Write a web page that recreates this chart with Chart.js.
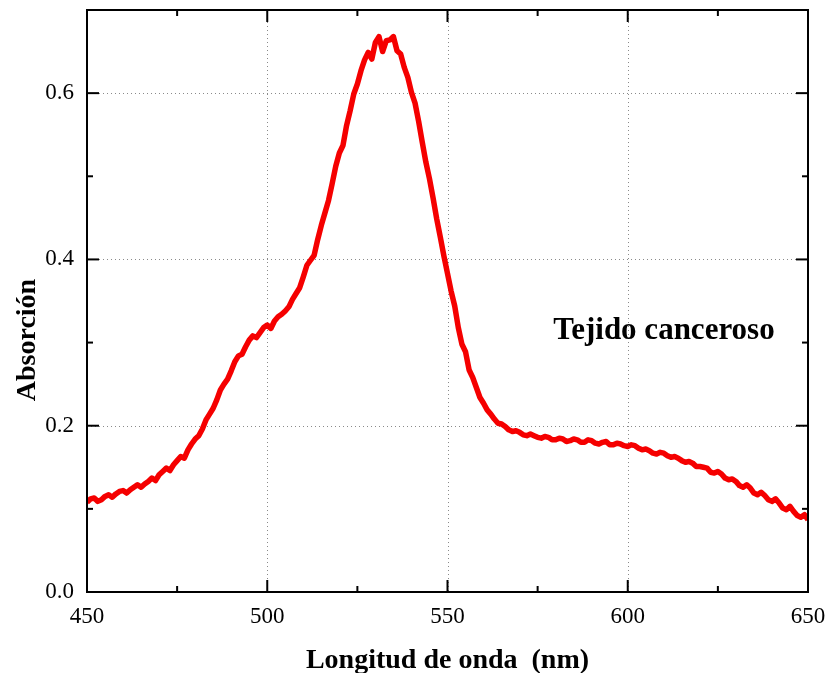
<!DOCTYPE html>
<html>
<head>
<meta charset="utf-8">
<script src="https://cdn.jsdelivr.net/npm/chart.js@4"></script>
<style>
  html, body { margin: 0; padding: 0; background: #fff; }
  #wrap { width: 827px; height: 673px; }
</style>
</head>
<body>
<div id="wrap"><canvas id="abs-chart" width="827" height="673"></canvas></div>
<script>
// wavelength (nm) and absorbance, 1 nm steps
const wavelengths = [
  450,
  451, 452, 453, 454, 455, 456, 457, 458, 459, 460,
  461, 462, 463, 464, 465, 466, 467, 468, 469, 470,
  471, 472, 473, 474, 475, 476, 477, 478, 479, 480,
  481, 482, 483, 484, 485, 486, 487, 488, 489, 490,
  491, 492, 493, 494, 495, 496, 497, 498, 499, 500,
  501, 502, 503, 504, 505, 506, 507, 508, 509, 510,
  511, 512, 513, 514, 515, 516, 517, 518, 519, 520,
  521, 522, 523, 524, 525, 526, 527, 528, 529, 530,
  531, 532, 533, 534, 535, 536, 537, 538, 539, 540,
  541, 542, 543, 544, 545, 546, 547, 548, 549, 550,
  551, 552, 553, 554, 555, 556, 557, 558, 559, 560,
  561, 562, 563, 564, 565, 566, 567, 568, 569, 570,
  571, 572, 573, 574, 575, 576, 577, 578, 579, 580,
  581, 582, 583, 584, 585, 586, 587, 588, 589, 590,
  591, 592, 593, 594, 595, 596, 597, 598, 599, 600,
  601, 602, 603, 604, 605, 606, 607, 608, 609, 610,
  611, 612, 613, 614, 615, 616, 617, 618, 619, 620,
  621, 622, 623, 624, 625, 626, 627, 628, 629, 630,
  631, 632, 633, 634, 635, 636, 637, 638, 639, 640,
  641, 642, 643, 644, 645, 646, 647, 648, 649, 650
];
const absorbance = [
  0.108,
  0.112, 0.113, 0.109, 0.111, 0.115, 0.117, 0.114, 0.118, 0.121, 0.122,
  0.119, 0.123, 0.126, 0.129, 0.126, 0.130, 0.133, 0.137, 0.134, 0.141,
  0.145, 0.149, 0.146, 0.153, 0.158, 0.163, 0.161, 0.171, 0.178, 0.184,
  0.188, 0.196, 0.207, 0.214, 0.221, 0.231, 0.243, 0.250, 0.256, 0.266,
  0.277, 0.284, 0.286, 0.295, 0.303, 0.308, 0.306, 0.312, 0.318, 0.321,
  0.317, 0.326, 0.331, 0.334, 0.338, 0.343, 0.352, 0.359, 0.366, 0.379,
  0.393, 0.399, 0.405, 0.424, 0.441, 0.456, 0.471, 0.491, 0.512, 0.528,
  0.537, 0.561, 0.579, 0.599, 0.611, 0.627, 0.640, 0.649, 0.641, 0.661,
  0.668, 0.650, 0.663, 0.664, 0.668, 0.651, 0.647, 0.631, 0.619, 0.601,
  0.588, 0.566, 0.541, 0.517, 0.497, 0.474, 0.449, 0.427, 0.404, 0.383,
  0.362, 0.344, 0.318, 0.298, 0.289, 0.267, 0.258, 0.246, 0.234, 0.227,
  0.219, 0.214, 0.208, 0.203, 0.202, 0.199, 0.195, 0.193, 0.194, 0.192,
  0.189, 0.188, 0.190, 0.188, 0.186, 0.185, 0.187, 0.186, 0.183, 0.183,
  0.185, 0.184, 0.181, 0.182, 0.184, 0.183, 0.180, 0.180, 0.183, 0.182,
  0.179, 0.178, 0.180, 0.181, 0.177, 0.177, 0.179, 0.178, 0.176, 0.175,
  0.177, 0.176, 0.173, 0.171, 0.172, 0.170, 0.167, 0.166, 0.168, 0.167,
  0.164, 0.162, 0.163, 0.161, 0.158, 0.156, 0.157, 0.155, 0.151, 0.151,
  0.150, 0.149, 0.144, 0.143, 0.145, 0.142, 0.137, 0.135, 0.136, 0.133,
  0.128, 0.126, 0.129, 0.125, 0.119, 0.117, 0.120, 0.116, 0.111, 0.109,
  0.112, 0.107, 0.101, 0.099, 0.103, 0.097, 0.092, 0.090, 0.093, 0.087
];
const xTicks = [450, 500, 550, 600, 650];
const yTicks = [0.0, 0.2, 0.4, 0.6];
const xMinor = [475, 525, 575, 625];
const yMinor = [0.1, 0.3, 0.5];

const serif = "'Liberation Serif', 'Times New Roman', serif";

// frame, dotted grid, inward ticks on all four sides, titles and label
const framePlugin = {
  id: "frame",
  beforeDatasetsDraw(chart) {
    const { ctx, chartArea: a, scales } = chart;
    ctx.save();
    ctx.strokeStyle = "#8a8a8a";
    ctx.lineWidth = 1;
    ctx.setLineDash([1, 3]);
    xTicks.slice(1, -1).forEach((v) => {
      const x = Math.round(scales.x.getPixelForValue(v)) + 0.5;
      ctx.beginPath(); ctx.moveTo(x, a.top); ctx.lineTo(x, a.bottom); ctx.stroke();
    });
    yTicks.slice(1).forEach((v) => {
      const y = Math.round(scales.y.getPixelForValue(v)) + 0.5;
      ctx.beginPath(); ctx.moveTo(a.left, y); ctx.lineTo(a.right, y); ctx.stroke();
    });
    ctx.restore();
  },
  afterDatasetsDraw(chart) {
    const { ctx, chartArea: a, scales } = chart;
    ctx.save();
    ctx.strokeStyle = "#000";
    ctx.lineWidth = 2;
    ctx.setLineDash([]);
    ctx.strokeRect(a.left, a.top, a.right - a.left, a.bottom - a.top);
    const tick = (x1, y1, x2, y2) => { ctx.beginPath(); ctx.moveTo(x1, y1); ctx.lineTo(x2, y2); ctx.stroke(); };
    xTicks.forEach((v) => {
      const x = scales.x.getPixelForValue(v);
      tick(x, a.bottom, x, a.bottom - 12); tick(x, a.top, x, a.top + 12);
    });
    xMinor.forEach((v) => {
      const x = scales.x.getPixelForValue(v);
      tick(x, a.bottom, x, a.bottom - 6); tick(x, a.top, x, a.top + 6);
    });
    yTicks.forEach((v) => {
      const y = scales.y.getPixelForValue(v);
      tick(a.left, y, a.left + 12, y); tick(a.right, y, a.right - 12, y);
    });
    yMinor.forEach((v) => {
      const y = scales.y.getPixelForValue(v);
      tick(a.left, y, a.left + 6, y); tick(a.right, y, a.right - 6, y);
    });

    ctx.fillStyle = "#000";
    ctx.textAlign = "center";
    ctx.textBaseline = "middle";
    ctx.font = "bold 28px " + serif;
    ctx.fillText("Longitud de onda  (nm)", (a.left + a.right) / 2, 661);
    ctx.save();
    ctx.translate(28, 340);
    ctx.rotate(-Math.PI / 2);
    ctx.fillText("Absorción", 0, 0);
    ctx.restore();
    ctx.font = "bold 31px " + serif;
    ctx.fillText("Tejido canceroso", 664, 331);
    ctx.restore();
  },
};

const data = {
  datasets: [
    {
      data: wavelengths.map((w, i) => ({ x: w, y: absorbance[i] })),
      borderColor: "#f50000",
      borderWidth: 5.5,
      pointRadius: 0,
      tension: 0,
      borderJoinStyle: "round",
    },
  ],
};

const options = {
  responsive: false,
  animation: false,
  layout: { padding: { top: 10, right: 19, left: 0, bottom: 0 } },
  scales: {
    x: {
      type: "linear",
      min: 450,
      max: 650,
      afterFit: (s) => { s.height = 81; s.paddingLeft = 0; s.paddingRight = 0; },
      grid: { display: false, drawTicks: false },
      border: { display: false },
      ticks: {
        stepSize: 50,
        padding: 11,
        color: "#000",
        font: { family: serif, size: 23 },
      },
    },
    y: {
      min: 0,
      max: 0.7,
      afterFit: (s) => { s.width = 87; s.paddingTop = 0; s.paddingBottom = 0; },
      grid: { display: false, drawTicks: false },
      border: { display: false },
      ticks: {
        stepSize: 0.2,
        includeBounds: false,
        padding: 13,
        color: "#000",
        font: { family: serif, size: 23 },
        callback: (v) => v.toFixed(1),
      },
    },
  },
  plugins: {
    legend: { display: false },
    tooltip: { enabled: false },
  },
};

const absChart = new Chart(document.getElementById("abs-chart").getContext("2d"), {
  type: "line",
  data: data,
  options: options,
  plugins: [framePlugin],
});
</script>
</body>
</html>
